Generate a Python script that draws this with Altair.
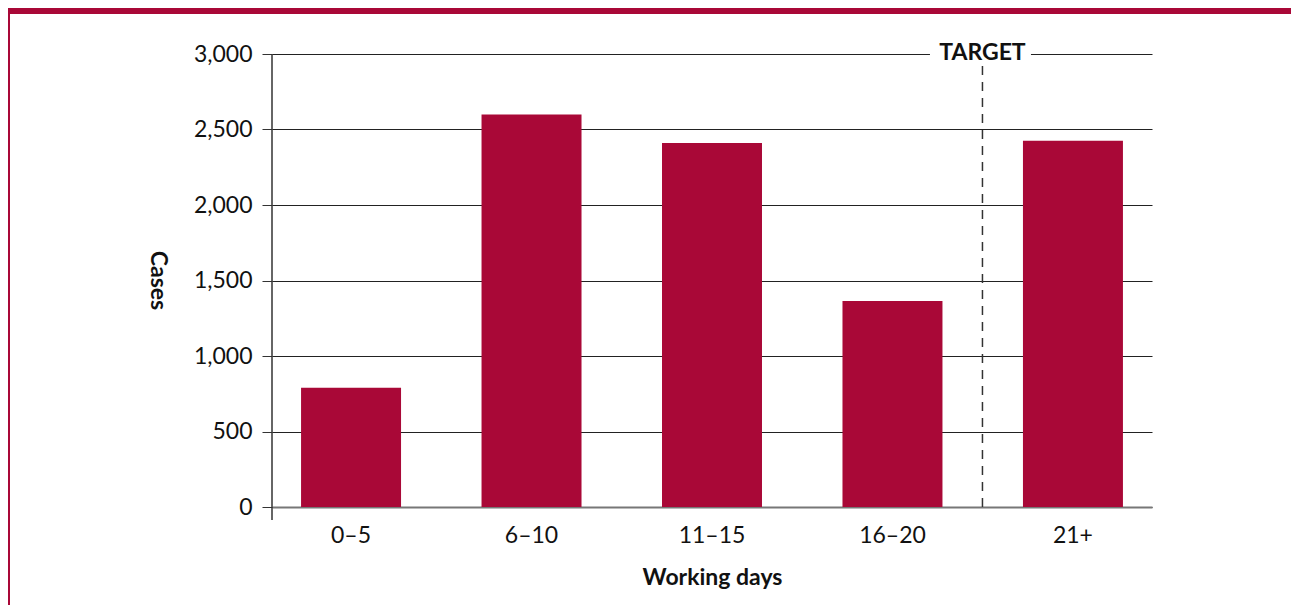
import altair as alt
import pandas as pd

# ---- data ----
days = ["0–5", "6–10", "11–15", "16–20", "21+"]
cases = [790, 2600, 2410, 1365, 2425]
y_ticks = [0, 500, 1000, 1500, 2000, 2500, 3000]
target_before = "21+"          # target line sits just before this band
target_label = "TARGET"

RED = "#A90837"
FONT = "Lato"
W, H = 880, 453
PAD_L, PAD_T, PAD_R, PAD_B = 264, 46, 139, 98

bars_df = pd.DataFrame({"days": days, "cases": cases})
target_df = pd.DataFrame({"days": [target_before], "label": [target_label]})
one_df = pd.DataFrame({"k": [0]})

x_enc = alt.X(
    "days:N",
    sort=days,
    scale=alt.Scale(paddingInner=0.446, paddingOuter=0.161),
    axis=alt.Axis(
        title="Working days",
        labelAngle=0,
        ticks=False,
        grid=False,
        labelPadding=17,
        titlePadding=19,
        domainColor="#777777",
        domainWidth=2,
    ),
)
y_enc = alt.Y(
    "cases:Q",
    scale=alt.Scale(domain=[0, 3000], nice=False),
    axis=alt.Axis(
        title="Cases",
        values=y_ticks,
        format=",.0f",
        domain=False,
        tickSize=10,
        tickColor="#333333",
        gridColor="#222222",
        labelPadding=10,
        titleAngle=90,
        titleX=-115,
        titleY=226,
        titleAlign="center",
        titleBaseline="middle",
    ),
)

bars = alt.Chart(bars_df).mark_bar(color=RED).encode(x=x_enc, y=y_enc)

x_target = alt.X("days:N", sort=days, bandPosition=0)

gap = alt.Chart(target_df).mark_rule(
    color="white", strokeWidth=4, xOffset=-93, x2Offset=8
).encode(x=x_target, x2=alt.X2("days", bandPosition=0), y=alt.value(0))

target_text = alt.Chart(target_df).mark_text(
    xOffset=-40.5, dy=-1, fontWeight="bold", fontSize=23, font=FONT,
    baseline="middle", align="center", color="#111111"
).encode(x=x_target, y=alt.value(0), text="label:N")

target_line = alt.Chart(target_df).mark_rule(
    strokeDash=[9, 7], color="#333333", strokeWidth=1.5, xOffset=-40.5
).encode(x=x_target, y=alt.value(12), y2=alt.value(H))

y_line = alt.Chart(one_df).mark_rule(color="#333333", strokeWidth=1.5).encode(
    x=alt.value(0), y=alt.value(0), y2=alt.value(H + 13)
)

banner = alt.Chart(one_df).mark_rect(color=RED).encode(
    x=alt.value(-PAD_L), x2=alt.value(W + PAD_R),
    y=alt.value(-PAD_T), y2=alt.value(-PAD_T + 6)
)
left_border = alt.Chart(one_df).mark_rule(color=RED, strokeWidth=2).encode(
    x=alt.value(-PAD_L + 1), y=alt.value(-PAD_T), y2=alt.value(H + PAD_B)
)

chart = (
    alt.layer(bars, gap, target_line, target_text, y_line, banner, left_border)
    .properties(
        width=W,
        height=H,
        autosize=alt.AutoSizeParams(type="none"),
        padding={"left": PAD_L, "top": PAD_T, "right": PAD_R, "bottom": PAD_B},
        background="white",
    )
    .configure_view(stroke=None)
    .configure_axis(
        labelFont=FONT,
        titleFont=FONT,
        labelFontSize=23,
        titleFontSize=23,
        titleFontWeight="bold",
        labelColor="#111111",
        titleColor="#111111",
    )
)

chart.save("out.html", embed_options={"renderer": "svg", "actions": False})
